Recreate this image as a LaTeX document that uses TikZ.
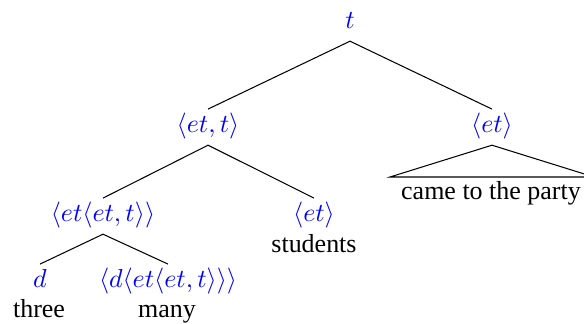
\documentclass[tikz,border=0pt]{standalone}
\usepackage{fontspec}
\setmainfont{Liberation Serif}
\begin{document}
\begin{tikzpicture}[
  x=0.385pt, y=-0.385pt,
  cat/.style={anchor=base, text=blue, inner sep=2pt, text height=7pt, text depth=2.5pt, font=\normalsize},
  word/.style={anchor=base, inner sep=1pt, font=\normalsize},
  branch/.style={draw, thin}
]
\useasboundingbox (0,0) rectangle (584,324);
\node[cat] (top) at (350,29) {$t$};
\node[cat] (ett) at (208,133) {$\langle et,t\rangle$};
\node[cat] (vp) at (492,133) {$\langle et\rangle$};
\node[cat] (det) at (103,222) {$\langle et\langle et,t\rangle\rangle$};
\node[cat] (np) at (314,222) {$\langle et\rangle$};
\node[cat] (num) at (40,288) {$d$};
\node[cat] (many) at (168,288) {$\langle d\langle et\langle et,t\rangle\rangle\rangle$};

\node[word] (wthree) at (39,318) {three};
\node[word] (wmany) at (167,318) {many};
\node[word] (wstud) at (314,253) {students};
\node[word] (wvp) at (491,200) {came to the party};
\coordinate (triL) at (390,177);
\coordinate (triR) at (594,177);

\draw[branch] (top.south) -- (ett.north);
\draw[branch] (top.south) -- (vp.north);
\draw[branch] (ett.south) -- (det.north);
\draw[branch] (ett.south) -- (np.north);
\draw[branch] (det.south) -- (num.north);
\draw[branch] (det.south) -- (many.north);
\draw[branch] (vp.south) -- (triL) -- (triR) -- cycle;
\end{tikzpicture}
\end{document}
